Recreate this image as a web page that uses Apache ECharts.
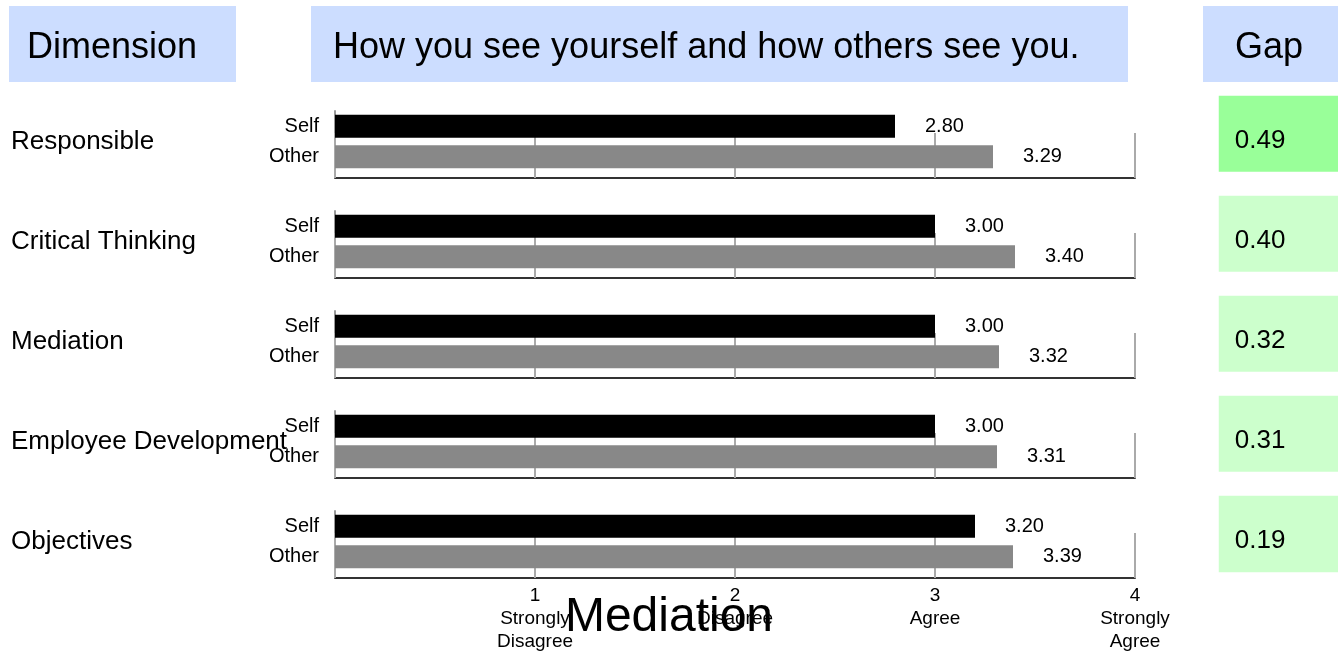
<!DOCTYPE html>
<html><head><meta charset="utf-8">
<script src="https://cdn.jsdelivr.net/npm/echarts@6/dist/echarts.min.js"></script>
<style>html,body{margin:0;padding:0;background:#fff}#c{width:1338px;height:655px}</style>
</head><body><div id="c"></div>
<script>
const dimensions = ['Responsible', 'Critical Thinking', 'Mediation', 'Employee Development', 'Objectives'];
const raters = ['Other', 'Self'];
const selfScores = [2.80, 3.00, 3.00, 3.00, 3.20];
const otherScores = [3.29, 3.40, 3.32, 3.31, 3.39];
const gaps = [0.49, 0.40, 0.32, 0.31, 0.19];
const tickLabels = ['', '1\nStrongly\nDisagree', '2\nDisagree', '3\nAgree', '4\nStrongly\nAgree'];
const headers = ['Dimension', 'How you see yourself and how others see you.', 'Gap'];
const chartTitle = 'Mediation';

const FONT = "'Liberation Sans', Arial, sans-serif";
const chart = echarts.init(document.getElementById('c'), null, {renderer: 'canvas'});

const grids = [], xAxes = [], yAxes = [], series = [];
dimensions.forEach((d, i) => {
  grids.push({left: 335, width: 800, top: 111 + 100 * i, height: 61, containLabel: false, outerBoundsMode: 'none'});
  xAxes.push({
    gridIndex: i, type: 'value', min: 0, max: 4, interval: 1, offset: 6,
    axisLine: {show: true, onZero: false, lineStyle: {color: '#333', width: 2}},
    axisTick: {show: true, inside: true, length: 45, lineStyle: {color: '#aaa', width: 2}},
    splitLine: {show: false},
    axisLabel: {show: i === dimensions.length - 1, formatter: v => tickLabels[v] || '',
      fontSize: 19, lineHeight: 23, color: '#000', margin: 6, fontFamily: FONT}
  });
  yAxes.push({
    gridIndex: i, type: 'category', data: raters,
    axisLine: {show: true, lineStyle: {color: '#999', width: 2}},
    axisTick: {show: false},
    axisLabel: {fontSize: 20, color: '#000', margin: 16, fontFamily: FONT}
  });
  series.push({
    type: 'bar', xAxisIndex: i, yAxisIndex: i, barWidth: 23, silent: true,
    data: [
      {value: otherScores[i], itemStyle: {color: '#888888'}},
      {value: selfScores[i], itemStyle: {color: '#000000'}}
    ],
    label: {show: true, position: 'right', distance: 30, fontSize: 20, color: '#000',
      fontFamily: FONT, formatter: p => p.value.toFixed(2)}
  });
});

// Gap column
grids.push({left: 1207, width: 143, top: 84, height: 500, containLabel: false, outerBoundsMode: 'none'});
xAxes.push({gridIndex: 5, type: 'category', data: ['Gap'], show: false});
yAxes.push({
  gridIndex: 5, type: 'category', data: dimensions, inverse: true,
  axisLine: {show: false}, axisTick: {show: false}, splitLine: {show: false},
  axisLabel: {align: 'left', margin: 1196, color: '#000',
    formatter: v => '{d|' + v + '}',
    rich: {d: {fontSize: 26, fontFamily: FONT, color: '#000', padding: [16, 0, 0, 0]}}}
});
series.push({
  type: 'heatmap', xAxisIndex: 5, yAxisIndex: 5, silent: true,
  data: gaps.map((g, i) => [0, i, g]),
  itemStyle: {borderColor: '#fff', borderWidth: 24},
  label: {show: true, position: 'insideLeft', distance: 40, offset: [0, 7], fontSize: 26,
    color: '#000', fontFamily: FONT, formatter: p => p.value[2].toFixed(2)},
  emphasis: {disabled: true}
});

const headerBoxes = [
  {x: 9, w: 227, tx: 27},
  {x: 311, w: 817, tx: 333},
  {x: 1203, w: 135, tx: 1235}
];
const graphic = [];
headers.forEach((h, k) => {
  const b = headerBoxes[k];
  graphic.push({type: 'rect', x: b.x, y: 6, z: 100, shape: {width: b.w, height: 76}, style: {fill: '#CCDDFF'}});
  graphic.push({type: 'text', x: b.tx, y: 48, z: 101, style: {text: h, fontSize: 36, fontFamily: FONT, fill: '#000', verticalAlign: 'middle', align: 'left'}});
});

chart.setOption({
  animation: false,
  backgroundColor: '#fff',
  title: {text: chartTitle, left: 'center', top: 594, padding: 0,
    textStyle: {fontSize: 48, fontWeight: 'normal', color: '#000', lineHeight: 48, fontFamily: FONT}},
  grid: grids, xAxis: xAxes, yAxis: yAxes, series: series,
  visualMap: {type: 'piecewise', show: false, seriesIndex: 5, dimension: 2,
    pieces: [{gte: 0.45, color: '#99FF99'}, {lt: 0.45, color: '#CCFFCC'}]},
  graphic: graphic
});
</script></body></html>
